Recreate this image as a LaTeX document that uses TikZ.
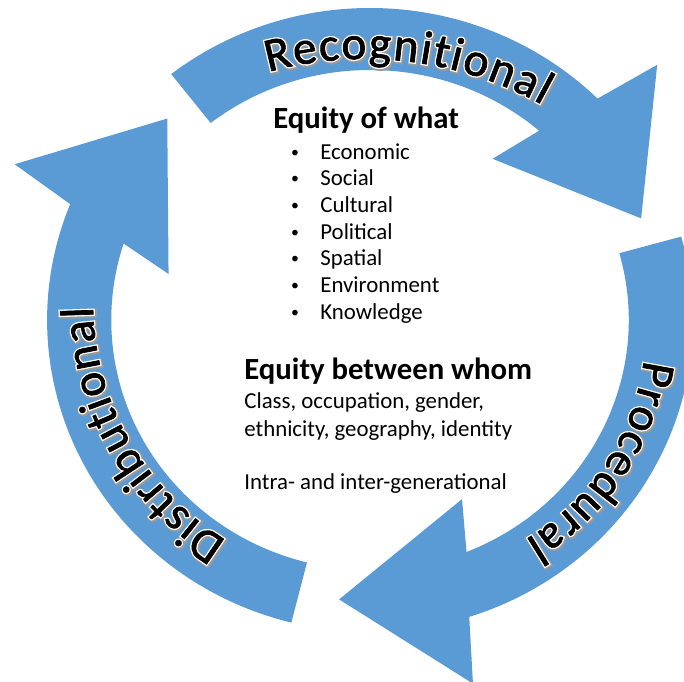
\documentclass[tikz,border=0pt]{standalone}
\usepackage{fontspec}
\setmainfont{Carlito}
\newfontfamily\labplain[FakeBold=1.5]{Carlito}
\newfontfamily\labwide[FakeBold=7]{Carlito}
\newfontfamily\labwider[FakeBold=11]{Carlito}
\newcommand\labfont{\labplain\fontsize{27}{32}\selectfont}
\newcommand\labhalo{\color{white}\labwide\fontsize{27}{32}\selectfont}
\newcommand\labshadow{\color{black!40}\labwider\fontsize{27}{32}\selectfont}
\usetikzlibrary{decorations.text}
\definecolor{cycleblue}{HTML}{5B9BD5}

\tikzset{
  cyclearrow/.style={fill=cycleblue},
  heading/.style={anchor=base west, inner sep=0pt, font=\fontsize{17.5}{21}\selectfont\bfseries},
  bodyline/.style={anchor=base west, inner sep=0pt, font=\fontsize{13}{16}\selectfont},
  bulletmark/.style={anchor=base, inner sep=0pt, font=\fontsize{9}{11}\selectfont},
  labeltext/.style={decorate, decoration={text along path, text align=fit to path, text={|\labfont|#1}}},
  labelhalo/.style={decorate, decoration={text along path, text align=fit to path, text={|\labhalo|#1}}},
  labelshadow/.style={decorate, decoration={text along path, text align=fit to path, text={|\labshadow|#1}}},
}

\begin{document}
\begin{tikzpicture}[x=0.2mm, y=0.2mm]
  \useasboundingbox (0,0) rectangle (684,681);

  % the three curved arrows of the cycle
  \begin{scope}[shift={(370,361)}, xscale=1.035]
    % recognitional, top
    \fill[cyclearrow] (128:312) arc[start angle=128, end angle=45.2, radius=312]
      -- (42.6:377) -- (21.2:281) -- (53.7:200) -- (49.2:250)
      arc[start angle=49.2, end angle=128, radius=250] -- cycle;
    % procedural, right
    \fill[cyclearrow] (15.5:312) arc[start angle=15.5, end angle=-72.1, radius=312]
      -- (-74.7:377) -- (-96.1:281) -- (-63.6:200) -- (-68.1:250)
      arc[start angle=-68.1, end angle=15.5, radius=250] -- cycle;
    % distributional, left
    \fill[cyclearrow] (-104.1:312) arc[start angle=-104.1, end angle=-201.8, radius=312]
      -- (-204.4:377) -- (-225.8:281) -- (-193.3:200) -- (-197.8:250)
      arc[start angle=-197.8, end angle=-104.1, radius=250] -- cycle;
  \end{scope}

  % labels along the arrows: shadow, white rim, black letters
  \path[labelshadow=Recognitional, shift={(366,255)}] (105.3:366) arc[start angle=105.3, end angle=61, radius=366];
  \path[labelhalo=Recognitional, shift={(365,256)}] (105.3:366) arc[start angle=105.3, end angle=61, radius=366];
  \path[labeltext=Recognitional, shift={(365,256)}] (105.3:366) arc[start angle=105.3, end angle=61, radius=366];

  \path[labelshadow=Procedural, shift={(401,352)}] (-7.5:246) arc[start angle=-7.5, end angle=-59.5, radius=246];
  \path[labelhalo=Procedural, shift={(400,353)}] (-7.5:246) arc[start angle=-7.5, end angle=-59.5, radius=246];
  \path[labeltext=Procedural, shift={(400,353)}] (-7.5:246) arc[start angle=-7.5, end angle=-59.5, radius=246];

  \path[labelshadow=Distributional, shift={(372,377)}] (238.7:278) arc[start angle=238.7, end angle=180.8, radius=278];
  \path[labelhalo=Distributional, shift={(371,378)}] (238.7:278) arc[start angle=238.7, end angle=180.8, radius=278];
  \path[labeltext=Distributional, shift={(371,378)}] (238.7:278) arc[start angle=238.7, end angle=180.8, radius=278];

  % equity of what
  \node[heading] (what) at (273,552) {Equity of what};
  \foreach \entry [count=\i] in {Economic, Social, Cultural, Political, Spatial, Environment, Knowledge} {
    \node[bulletmark] (dot\i) at (295,550.4-26.67*\i) {•};
    \node[bodyline] (what\i) at (320,548.4-26.67*\i) {\entry};
  }

  % equity between whom
  \node[heading] (whom) at (244,301) {Equity between whom};
  \node[bodyline] (whom1) at (244,272.7) {Class, occupation, gender,};
  \node[bodyline] (whom2) at (244,244.3) {ethnicity, geography, identity};
  \node[bodyline] (gen) at (244,191) {Intra- and inter-generational};
\end{tikzpicture}
\end{document}
